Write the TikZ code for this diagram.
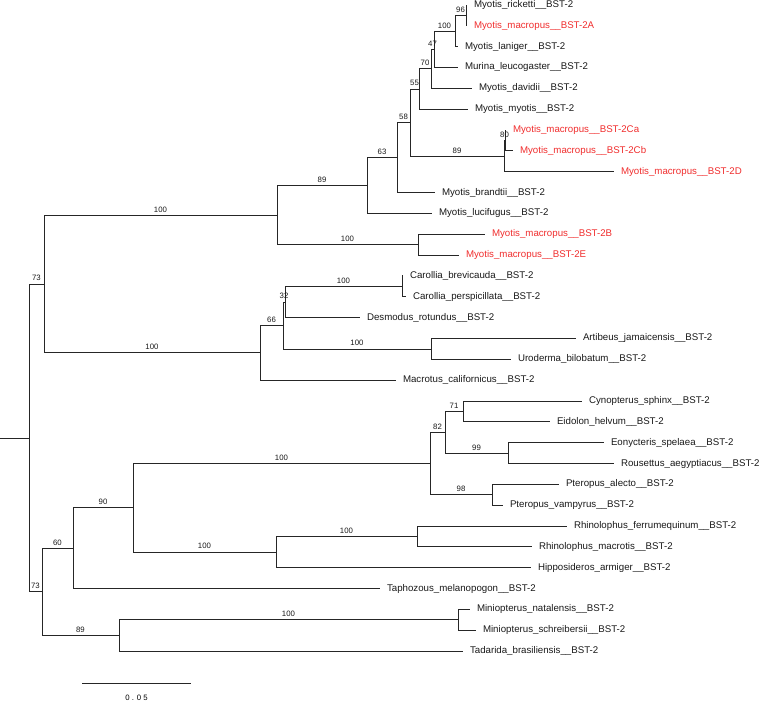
\documentclass[tikz,border=0pt]{standalone}
\usepackage{fontspec}
\setmainfont{Liberation Sans}
\definecolor{macred}{RGB}{240,45,45}

\begin{document}
\begin{tikzpicture}[x=1pt, y=-1pt,
    twig/.style={draw=black!85, line width=0.8pt},
    leaflab/.style={anchor=west, inner xsep=7pt, inner ysep=0pt, outer sep=0pt,
        text height=7pt, text depth=2pt, font=\fontsize{9.7}{11}\selectfont, text=black!90},
    redleaf/.style={leaflab, text=macred},
    boot/.style={pos=0.75, above, inner sep=2.6pt, font=\fontsize{7.8}{9}\selectfont, text=black!90}]
    \useasboundingbox (0,0) rectangle (760,703);

    % Leaves (tip of branch = west anchor)
    \node[leaflab] (ricketti) at (467, 5.0) {Myotis\_ricketti\_\_BST-2};
    \node[redleaf] (macA) at (467, 25.8) {Myotis\_macropus\_\_BST-2A};
    \node[leaflab] (laniger) at (458, 46.7) {Myotis\_laniger\_\_BST-2};
    \node[leaflab] (murina) at (458, 67.5) {Murina\_leucogaster\_\_BST-2};
    \node[leaflab] (davidii) at (472, 88.4) {Myotis\_davidii\_\_BST-2};
    \node[leaflab] (myotis) at (468, 109.2) {Myotis\_myotis\_\_BST-2};
    \node[redleaf] (macCa) at (506, 130.0) {Myotis\_macropus\_\_BST-2Ca};
    \node[redleaf] (macCb) at (513, 150.9) {Myotis\_macropus\_\_BST-2Cb};
    \node[redleaf] (macD) at (614, 171.7) {Myotis\_macropus\_\_BST-2D};
    \node[leaflab] (brandtii) at (435, 192.6) {Myotis\_brandtii\_\_BST-2};
    \node[leaflab] (lucifugus) at (432, 213.4) {Myotis\_lucifugus\_\_BST-2};
    \node[redleaf] (macB) at (485, 234.2) {Myotis\_macropus\_\_BST-2B};
    \node[redleaf] (macE) at (459, 255.1) {Myotis\_macropus\_\_BST-2E};
    \node[leaflab] (cbrev) at (403, 275.9) {Carollia\_brevicauda\_\_BST-2};
    \node[leaflab] (cpers) at (406, 296.8) {Carollia\_perspicillata\_\_BST-2};
    \node[leaflab] (desmodus) at (360, 317.6) {Desmodus\_rotundus\_\_BST-2};
    \node[leaflab] (artibeus) at (576, 338.4) {Artibeus\_jamaicensis\_\_BST-2};
    \node[leaflab] (uroderma) at (511, 359.3) {Uroderma\_bilobatum\_\_BST-2};
    \node[leaflab] (macrotus) at (396, 380.1) {Macrotus\_californicus\_\_BST-2};
    \node[leaflab] (cynopterus) at (582, 401.0) {Cynopterus\_sphinx\_\_BST-2};
    \node[leaflab] (eidolon) at (550, 421.8) {Eidolon\_helvum\_\_BST-2};
    \node[leaflab] (eonycteris) at (604, 442.6) {Eonycteris\_spelaea\_\_BST-2};
    \node[leaflab] (rousettus) at (614, 463.5) {Rousettus\_aegyptiacus\_\_BST-2};
    \node[leaflab] (palecto) at (559, 484.3) {Pteropus\_alecto\_\_BST-2};
    \node[leaflab] (pvampyrus) at (503, 505.2) {Pteropus\_vampyrus\_\_BST-2};
    \node[leaflab] (rferrum) at (567, 526.0) {Rhinolophus\_ferrumequinum\_\_BST-2};
    \node[leaflab] (rmacrotis) at (532, 546.8) {Rhinolophus\_macrotis\_\_BST-2};
    \node[leaflab] (hipposideros) at (531, 567.7) {Hipposideros\_armiger\_\_BST-2};
    \node[leaflab] (taphozous) at (380, 588.5) {Taphozous\_melanopogon\_\_BST-2};
    \node[leaflab] (mnatal) at (470, 609.4) {Miniopterus\_natalensis\_\_BST-2};
    \node[leaflab] (mschreib) at (476, 630.2) {Miniopterus\_schreibersii\_\_BST-2};
    \node[leaflab] (tadarida) at (463, 651.0) {Tadarida\_brasiliensis\_\_BST-2};

    % Internal nodes
    \coordinate (n96) at (466, 15.4);
    \coordinate (n100a) at (455, 31.1);
    \coordinate (n47) at (434, 49.3);
    \coordinate (n70) at (431, 68.8);
    \coordinate (n55) at (419, 89.0);
    \coordinate (n80) at (505, 140.5);
    \coordinate (n89c) at (504, 156.1);
    \coordinate (n58) at (410, 122.5);
    \coordinate (n63) at (397, 157.6);
    \coordinate (n89b) at (367, 185.5);
    \coordinate (n100b) at (418, 244.7);
    \coordinate (n100c) at (277, 215.1);
    \coordinate (n100d) at (402, 286.4);
    \coordinate (n32) at (285, 302.0);
    \coordinate (n100e) at (431, 348.9);
    \coordinate (n66) at (283, 325.4);
    \coordinate (n100f) at (260, 352.8);
    \coordinate (n73a) at (44, 284.0);
    \coordinate (n71) at (463, 411.4);
    \coordinate (n99) at (508, 453.1);
    \coordinate (n82) at (445, 432.2);
    \coordinate (n98) at (492, 494.8);
    \coordinate (n100g) at (430, 463.5);
    \coordinate (n100h) at (417, 536.4);
    \coordinate (n100i) at (276, 552.0);
    \coordinate (n90) at (133, 507.8);
    \coordinate (n60) at (73, 548.1);
    \coordinate (n100j) at (458, 619.8);
    \coordinate (n89d) at (119, 635.4);
    \coordinate (n73b) at (42, 591.8);
    \coordinate (root) at (29, 437.9);
    \coordinate (base) at (0, 437.9);

    % Myotis clade
    \draw[twig] (n96) |- (ricketti.west);
    \draw[twig] (n96) |- (macA.west);
    \draw[twig] (n100a) |- (n96) node[boot] {96};
    \draw[twig] (n100a) |- (laniger.west);
    \draw[twig] (n47) |- (n100a) node[boot] {100};
    \draw[twig] (n47) |- (murina.west);
    \draw[twig] (n70) |- (n47) node[boot] {47};
    \draw[twig] (n70) |- (davidii.west);
    \draw[twig] (n55) |- (n70) node[boot] {70};
    \draw[twig] (n55) |- (myotis.west);
    \draw[twig] (n80) |- (macCa.west);
    \draw[twig] (n80) |- (macCb.west);
    \draw[twig] (n89c) |- (n80) node[boot] {80};
    \draw[twig] (n89c) |- (macD.west);
    \draw[twig] (n58) |- (n55) node[boot] {55};
    \draw[twig] (n58) |- (n89c) node[boot] {89};
    \draw[twig] (n63) |- (n58) node[boot] {58};
    \draw[twig] (n63) |- (brandtii.west);
    \draw[twig] (n89b) |- (n63) node[boot] {63};
    \draw[twig] (n89b) |- (lucifugus.west);
    \draw[twig] (n100b) |- (macB.west);
    \draw[twig] (n100b) |- (macE.west);
    \draw[twig] (n100c) |- (n89b) node[boot] {89};
    \draw[twig] (n100c) |- (n100b) node[boot] {100};

    % Phyllostomid clade
    \draw[twig] (n100d) |- (cbrev.west);
    \draw[twig] (n100d) |- (cpers.west);
    \draw[twig] (n32) |- (n100d) node[boot] {100};
    \draw[twig] (n32) |- (desmodus.west);
    \draw[twig] (n100e) |- (artibeus.west);
    \draw[twig] (n100e) |- (uroderma.west);
    \draw[twig] (n66) |- (n32) node[boot] {32};
    \draw[twig] (n66) |- (n100e) node[boot] {100};
    \draw[twig] (n100f) |- (n66) node[boot] {66};
    \draw[twig] (n100f) |- (macrotus.west);
    \draw[twig] (n73a) |- (n100c) node[boot] {100};
    \draw[twig] (n73a) |- (n100f) node[boot] {100};

    % Pteropodid and rhinolophoid clades
    \draw[twig] (n71) |- (cynopterus.west);
    \draw[twig] (n71) |- (eidolon.west);
    \draw[twig] (n99) |- (eonycteris.west);
    \draw[twig] (n99) |- (rousettus.west);
    \draw[twig] (n82) |- (n71) node[boot] {71};
    \draw[twig] (n82) |- (n99) node[boot] {99};
    \draw[twig] (n98) |- (palecto.west);
    \draw[twig] (n98) |- (pvampyrus.west);
    \draw[twig] (n100g) |- (n82) node[boot] {82};
    \draw[twig] (n100g) |- (n98) node[boot] {98};
    \draw[twig] (n100h) |- (rferrum.west);
    \draw[twig] (n100h) |- (rmacrotis.west);
    \draw[twig] (n100i) |- (n100h) node[boot] {100};
    \draw[twig] (n100i) |- (hipposideros.west);
    \draw[twig] (n90) |- (n100g) node[boot] {100};
    \draw[twig] (n90) |- (n100i) node[boot] {100};
    \draw[twig] (n60) |- (n90) node[boot] {90};
    \draw[twig] (n60) |- (taphozous.west);

    % Miniopterus and Tadarida
    \draw[twig] (n100j) |- (mnatal.west);
    \draw[twig] (n100j) |- (mschreib.west);
    \draw[twig] (n89d) |- (n100j) node[boot] {100};
    \draw[twig] (n89d) |- (tadarida.west);
    \draw[twig] (n73b) |- (n60) node[boot] {60};
    \draw[twig] (n73b) |- (n89d) node[boot] {89};

    % Root
    \draw[twig] (root) |- (n73a) node[boot] {73};
    \draw[twig] (root) |- (n73b) node[boot] {73};
    \draw[twig] (base) -- (root);

    % Scale bar
    \coordinate (sbL) at (82, 683);
    \coordinate (sbR) at (191, 683);
    \draw[twig] (sbL) -- (sbR) node[midway, below=12pt, inner sep=0pt, font=\fontsize{7.8}{9}\selectfont] {0 . 0 5};
\end{tikzpicture}
\end{document}
